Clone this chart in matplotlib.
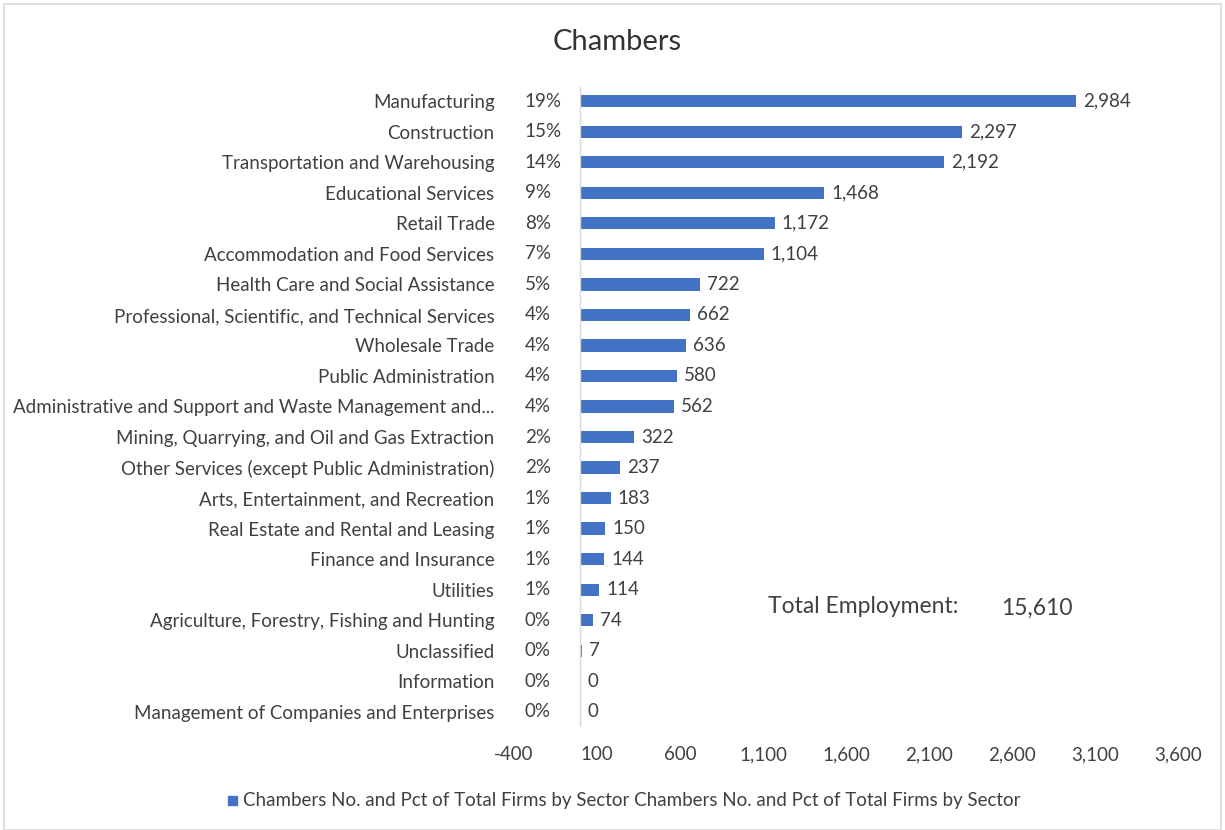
import matplotlib
matplotlib.use("Agg")
import matplotlib.pyplot as plt
from matplotlib.patches import Rectangle

sectors = [
    "Manufacturing", "Construction", "Transportation and Warehousing",
    "Educational Services", "Retail Trade", "Accommodation and Food Services",
    "Health Care and Social Assistance",
    "Professional, Scientific, and Technical Services", "Wholesale Trade",
    "Public Administration",
    "Administrative and Support and Waste Management and...",
    "Mining, Quarrying, and Oil and Gas Extraction",
    "Other Services (except Public Administration)",
    "Arts, Entertainment, and Recreation", "Real Estate and Rental and Leasing",
    "Finance and Insurance", "Utilities",
    "Agriculture, Forestry, Fishing and Hunting", "Unclassified", "Information",
    "Management of Companies and Enterprises",
]
values = [2984, 2297, 2192, 1468, 1172, 1104, 722, 662, 636, 580, 562,
          322, 237, 183, 150, 144, 114, 74, 7, 0, 0]
pcts = ["19%", "15%", "14%", "9%", "8%", "7%", "5%", "4%", "4%", "4%", "4%",
        "2%", "2%", "1%", "1%", "1%", "1%", "0%", "0%", "0%", "0%"]
xticks = [-400, 100, 600, 1100, 1600, 2100, 2600, 3100, 3600]
total_label = "Total Employment:"
total_value = "15,610"
title = "Chambers"
legend_label = ("Chambers No. and Pct of Total Firms by Sector "
                "Chambers No. and Pct of Total Firms by Sector")

plt.rcParams["font.family"] = ["Lato", "DejaVu Sans"]
TXT = "#404040"
BLUE = "#4472C4"
FS = 13.5

fig = plt.figure(figsize=(12.25, 8.3), dpi=100)
fig.patches.append(Rectangle((0.003, 0.0), 0.994, 0.995, transform=fig.transFigure,
                             fill=False, edgecolor="#d9d9d9", linewidth=1.2))
ax = fig.add_axes([0.4196, 0.1241, 0.542, 0.7723])

y = list(range(len(sectors)))
ax.barh(y, values, height=0.4, color=BLUE)
ax.set_ylim(len(sectors) - 0.5, -0.5)
ax.set_xlim(-400, 3600)
ax.set_xticks(xticks)
ax.set_xticklabels([f"{t:,}" for t in xticks], color=TXT, fontsize=FS)
ax.set_yticks(y)
ax.set_yticklabels(sectors, color=TXT, fontsize=FS)
ax.tick_params(axis="y", length=0, pad=14)
ax.tick_params(axis="x", length=0, pad=14)
for s in ax.spines.values():
    s.set_visible(False)
ax.axvline(0, color="#d9d9d9", linewidth=1)

for yi, v, p in zip(y, values, pcts):
    ax.text(-335, yi, p, ha="left", va="center", color=TXT, fontsize=FS)
    ax.annotate(f"{v:,}", (v, yi), xytext=(5, 0), textcoords="offset points",
                ha="left", va="center", color=TXT, fontsize=FS)

fig.text(768 / 1225, 1 - 606 / 830, total_label, ha="left", va="center",
         color=TXT, fontsize=16.5)
fig.text(1001 / 1225, 1 - 608 / 830, total_value, ha="left", va="center",
         color=TXT, fontsize=16.5)
fig.text(617 / 1225, 1 - 42 / 830, title, ha="center", va="center",
         color="#333333", fontsize=21)

fig.patches.append(Rectangle((228 / 1225, 1 - 805 / 830), 9 / 1225, 9 / 830,
                             transform=fig.transFigure, color=BLUE))
fig.text(243 / 1225, 1 - 800 / 830, legend_label, ha="left", va="center",
         color=TXT, fontsize=FS)

fig.savefig("out.png", dpi=100)
